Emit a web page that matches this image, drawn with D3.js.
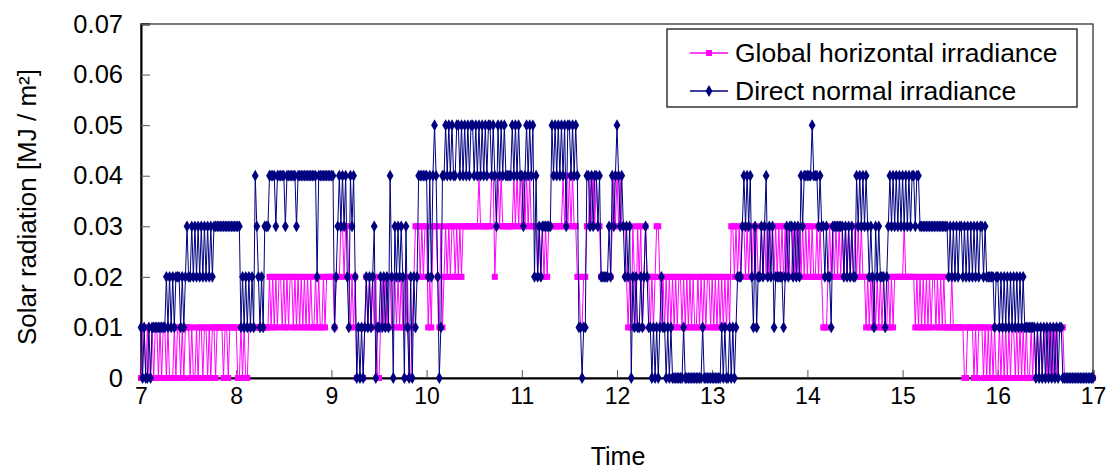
<!DOCTYPE html>
<html>
<head>
<meta charset="utf-8">
<script src="https://cdn.jsdelivr.net/npm/d3@7"></script>
<style>
  html, body { margin: 0; padding: 0; background: #fff; }
  svg { display: block; }
  text { font-family: "Liberation Sans", Arial, sans-serif; fill: #000; }
</style>
</head>
<body>
<svg id="chart" width="1109" height="473"></svg>
<script>
// ---- DATA (one reading per minute, 7:00 - 17:00) ----
// each digit = radiation in units of 0.01 MJ/m2; one string per hour (6 groups of 10 minutes)
const startHour = 7;
const globalHours = [
  "0110100101 1010110100 0101101011 1010010110 1101011011 1101101111", // 7h
  "1001010011 1111111111 1212121221 2121221212 1212121211 2121121222", // 8h
  "2212223323 3212120000 0121212120 0121212212 2121212120 0123332323", // 9h
  "3121333213 1232323323 2323333333 3334333333 3442343433 3333343434", // 10h
  "3434343333 2323232333 3333334343 4343322112 2334343433 2222222343", // 11h
  "4343332121 3213231232 2121233212 1212121212 2121212121 1212121221", // 12h
  "2121212121 2133232323 3232323232 2323232332 3232323232 2323232323", // 13h
  "2323223232 1112323232 3232323232 3232322121 2121212121 1212122222", // 14h
  "2322222212 1212121212 2121212111 1211111110 0111101011 1010101010", // 15h
  "0101010101 1010101010 0101010101 1010101011 1100000000 0000000000"  // 16h
];
const globalEnd = "0"; // 17:00
const directHours = [
  "1010010111 1111112121 2122212123 2232323232 3232323333 3333333333", // 7h
  "3331212121 2143212133 3444434444 4344444434 4444444444 4244444444", // 8h
  "4412343434 2143420101 0121212301 1212121420 3232320310 2021244444", // 9h
  "4242454201 4454545445 5454545455 4545454545 5454354545 4444545454", // 10h
  "4345454524 2323333335 4545454535 5454541101 1443434434 2222232434", // 11h
  "5434323230 2121121232 1101010121 1010100000 0010000000 0000100000", // 12h
  "0000001010 0101012223 4343421312 2323423231 2222212323 3232324344", // 13h
  "4445444343 3232213333 3332323232 2434343432 3213232221 2343434343", // 14h
  "4343434434 4333333333 3333333332 3232323323 2323232323 3232222212", // 15h
  "2121212121 2121212111 1111010101 0101010101 1000000000 0000000000"  // 16h
];
const directEnd = "0"; // 17:00
const xTickValues = [7, 8, 9, 10, 11, 12, 13, 14, 15, 16, 17];
const yTickValues = [0, 0.01, 0.02, 0.03, 0.04, 0.05, 0.06, 0.07];
const seriesNames = ["Global horizontal irradiance", "Direct normal irradiance"];
const seriesColors = ["#FF00FF", "#000080"];

// ---- build point lists ----
function parseHours(hours, endDigit) {
  const pts = [];
  hours.forEach((s, h) => {
    const digits = s.replace(/\s+/g, "").split("");
    digits.forEach((d, m) => pts.push({ t: startHour + h + m / 60, v: (+d) / 100 }));
  });
  pts.push({ t: startHour + hours.length, v: (+endDigit) / 100 });
  return pts;
}
const globalData = parseHours(globalHours, globalEnd);
const directData = parseHours(directHours, directEnd);

// ---- layout ----
const svg = d3.select("#chart");
const L = 141, R = 1093, T = 24, B = 378;
const x = d3.scaleLinear().domain([7, 17]).range([L, R]);
const y = d3.scaleLinear().domain([0, 0.07]).range([B, T]);

// frame
svg.append("rect").attr("x", L).attr("y", T).attr("width", R - L).attr("height", B - T)
  .attr("fill", "#fff").attr("stroke", "#222").attr("stroke-width", 1.2);

// axes
const yAxis = d3.axisLeft(y).tickValues(yTickValues).tickSize(-9).tickPadding(18)
  .tickFormat(d => d === 0 ? "0" : d3.format(".2f")(d));
const gy = svg.append("g").attr("transform", `translate(${L},0)`).call(yAxis);
gy.select(".domain").attr("stroke", "#000").attr("stroke-width", 2);
gy.selectAll(".tick line").attr("stroke", "#555");
gy.selectAll(".tick text").style("font-size", "25.5px");

const xAxis = d3.axisBottom(x).tickValues(xTickValues).tickSize(-8).tickPadding(10)
  .tickFormat(d3.format("d"));
const gx = svg.append("g").attr("transform", `translate(0,${B})`).call(xAxis);
gx.select(".domain").attr("stroke", "#000").attr("stroke-width", 2);
gx.selectAll(".tick line").attr("stroke", "#555");
gx.selectAll(".tick text").style("font-size", "23px");

// axis titles
svg.append("text").attr("x", 618).attr("y", 465).attr("text-anchor", "middle")
  .style("font-size", "25px").text("Time");
svg.append("text").attr("transform", `translate(36,${(T + B) / 2 + 6}) rotate(-90)`)
  .attr("text-anchor", "middle").style("font-size", "26px")
  .text("Solar radiation [MJ / m²]");

// series
const line = d3.line().x(d => x(d.t)).y(d => y(d.v));
const plot = svg.append("g");
const squareSym = d3.symbol().type(d3.symbolSquare).size(36);
const diamondSym = d3.symbol().type(d3.symbolDiamond).size(40);

plot.append("path").datum(globalData).attr("d", line)
  .attr("fill", "none").attr("stroke", seriesColors[0]).attr("stroke-width", 1);
plot.append("g").selectAll("path").data(globalData).join("path")
  .attr("transform", d => `translate(${x(d.t)},${y(d.v)})`)
  .attr("d", squareSym).attr("fill", seriesColors[0]);

plot.append("path").datum(directData).attr("d", line)
  .attr("fill", "none").attr("stroke", seriesColors[1]).attr("stroke-width", 1);
plot.append("g").selectAll("path").data(directData).join("path")
  .attr("transform", d => `translate(${x(d.t)},${y(d.v)})`)
  .attr("d", diamondSym).attr("fill", seriesColors[1]);

// legend
const lg = svg.append("g");
lg.append("rect").attr("x", 667).attr("y", 29).attr("width", 410).attr("height", 78)
  .attr("fill", "#fff").attr("stroke", "#000").attr("stroke-width", 1.2);
const rows = [
  { name: seriesNames[0], color: seriesColors[0], sym: squareSym, cy: 53 },
  { name: seriesNames[1], color: seriesColors[1], sym: diamondSym, cy: 91 }
];
rows.forEach(r => {
  lg.append("line").attr("x1", 690).attr("x2", 728).attr("y1", r.cy).attr("y2", r.cy)
    .attr("stroke", r.color).attr("stroke-width", 1.5);
  lg.append("path").attr("transform", `translate(709,${r.cy})`).attr("d", r.sym).attr("fill", r.color);
  lg.append("text").attr("x", 735).attr("y", r.cy + 9).style("font-size", "26.5px").text(r.name);
});
</script>
</body>
</html>
